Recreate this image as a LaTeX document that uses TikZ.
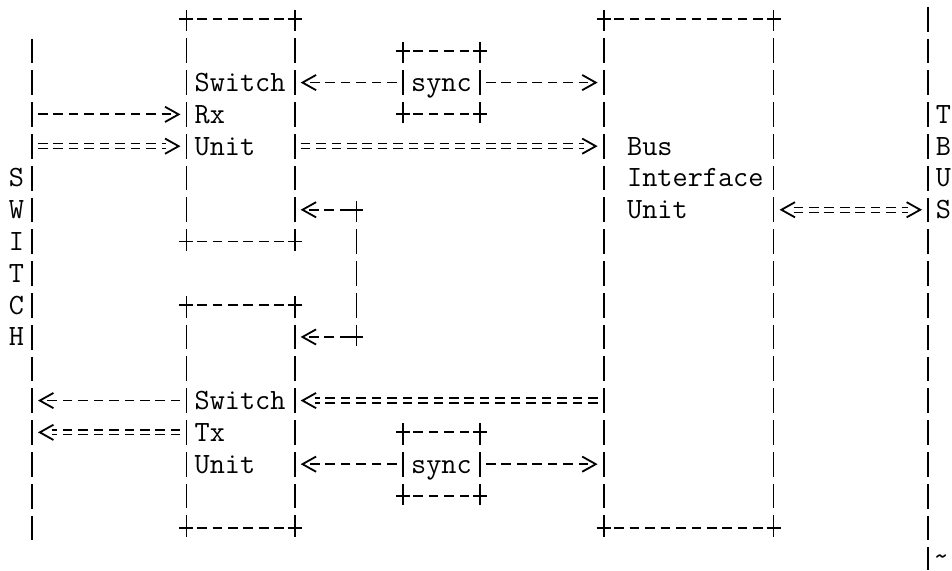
\documentclass[tikz,border=0pt]{standalone}
\usepackage{fontspec}
\usetikzlibrary{arrows.meta,calc,fit}

\begin{document}
\begin{tikzpicture}[x=7.725pt, y=-15.9pt,
  txt/.style={font=\fontsize{14.7pt}{15.9pt}\selectfont\ttfamily\addfontfeatures{FakeBold=1.2}, inner sep=0pt, text height=9pt, text depth=0pt},
  box/.style={inner sep=0pt, outer sep=0pt},
  hline/.style={line width=0.9pt, dash pattern=on 4.8pt off 2.925pt, dash phase=2.4pt},
  vline/.style={line width=0.9pt, dash pattern=on 12.4pt off 3.5pt, dash phase=6.2pt},
  barline/.style={vline, dash phase=0pt},
  sarrow/.style={line width=0.9pt, dash pattern=on 4.8pt off 2.925pt, -{Straight Barb[length=6.8pt,width=7.6pt]}, shorten >=3pt, shorten <=3pt},
  dline/.style={line width=0.65pt, double distance=1.8pt, dash pattern=on 4.8pt off 2.925pt, shorten <=3pt, shorten >=10pt},
  dtip/.style={line width=0.9pt, -{Straight Barb[length=6.8pt,width=7.6pt]}}]

\useasboundingbox (-0.071,-0.597) rectangle (61.55,17.33);

% Row helpers
\foreach \r in {0,...,17} \coordinate (r\r) at (0,\r);

% Boxes
\node[box, fit={(12,0) (19,7)}] (rx) {};
\node[box, fit={(12,9) (19,16)}] (tx) {};
\node[box, fit={(39,0) (50,16)}] (biu) {};
\node[box, fit={(26,1) (31,3)}] (synca) {};
\node[box, fit={(26,13) (31,15)}] (syncb) {};

\foreach \b in {rx,tx,biu,synca,syncb} {
  \draw[hline] (\b.north west) -- (\b.north east) (\b.south west) -- (\b.south east);
  \draw[vline] (\b.north west) -- (\b.south west) (\b.north east) -- (\b.south east);
  \foreach \c in {north west,north east,south west,south east}
    \draw[line width=0.9pt] (\b.\c) +(-3.5pt,0) -- +(3.5pt,0) +(0,-4.5pt) -- +(0,4.5pt);
}

% Box texts
\node[txt, anchor=west] (rxa) at (12.5,2) {Switch};
\node[txt, anchor=west] (rxb) at (12.5,3) {Rx};
\node[txt, anchor=west] (rxc) at (12.5,4) {Unit};
\node[txt, anchor=west] (txa) at (12.5,12) {Switch};
\node[txt, anchor=west] (txb) at (12.5,13) {Tx};
\node[txt, anchor=west] (txc) at (12.5,14) {Unit};
\node[txt, anchor=west] (biua) at (40.5,4) {Bus};
\node[txt, anchor=west] (biub) at (40.5,5) {Interface};
\node[txt, anchor=west] (biuc) at (40.5,6) {Unit};
\node[txt] (syncatxt) at (synca) {sync};
\node[txt] (syncbtxt) at (syncb) {sync};

% Switch side
\coordinate (swtop) at (2,0.62);
\coordinate (swbot) at (2,16.38);
\draw[barline] (swtop) -- (swbot);
\foreach \ch [count=\i from 5] in {S,W,I,T,C,H} \node[txt] (sw\i) at (1,\i) {\ch};

% TBUS side
\coordinate (tbtop) at (60,-0.38);
\coordinate (tbbot) at (60,17.33);
\draw[barline] (tbtop) -- (tbbot);
\foreach \ch [count=\i from 3] in {T,B,U,S} \node[txt] (tb\i) at (61,\i) {\ch};
\node[txt] (tilde) at (60.85,16.9) {\textasciitilde};

% Single arrows
\draw[sarrow] (swtop |- r3) -- (rx.west |- r3);
\draw[sarrow] (synca.west) -- (rx.east |- synca.west);
\draw[sarrow] (synca.east) -- (biu.west |- synca.east);
\draw[sarrow] (tx.west |- r12) -- (swtop |- r12);
\draw[sarrow] (syncb.west) -- (tx.east |- syncb.west);
\draw[sarrow] (syncb.east) -- (biu.west |- syncb.east);

% Feedback between Rx and Tx
\coordinate (fbtop) at (23,6);
\coordinate (fbbot) at (23,10);
\draw[vline] (fbtop) -- (fbbot);
\draw[sarrow, shorten <=3.5pt] (fbtop) -- (rx.east |- fbtop);
\draw[sarrow, shorten <=3.5pt] (fbbot) -- (tx.east |- fbbot);
\foreach \p in {fbtop,fbbot}
  \draw[line width=0.9pt] (\p) +(-3.5pt,0) -- +(3.5pt,0) +(0,-4.5pt) -- +(0,4.5pt);

% Double arrows
\draw[dline] (swtop |- r4) -- (rx.west |- r4);
\draw[dtip] ($(rx.west |- r4)!4pt!(swtop |- r4)$) -- ($(rx.west |- r4)!3pt!(swtop |- r4)$);
\draw[dline] (rx.east |- r4) -- (biu.west |- r4);
\draw[dtip] ($(biu.west |- r4)!4pt!(rx.east |- r4)$) -- ($(biu.west |- r4)!3pt!(rx.east |- r4)$);
\draw[dline, shorten <=10pt] (biu.east |- r6) -- (tbtop |- r6);
\draw[dtip] ($(tbtop |- r6)!4pt!(biu.east |- r6)$) -- ($(tbtop |- r6)!3pt!(biu.east |- r6)$);
\draw[dtip] ($(biu.east |- r6)!4pt!(tbtop |- r6)$) -- ($(biu.east |- r6)!3pt!(tbtop |- r6)$);
\draw[dline] (biu.west |- r12) -- (tx.east |- r12);
\draw[dtip] ($(tx.east |- r12)!4pt!(biu.west |- r12)$) -- ($(tx.east |- r12)!3pt!(biu.west |- r12)$);
\draw[dline] (tx.west |- r13) -- (swtop |- r13);
\draw[dtip] ($(swtop |- r13)!4pt!(tx.west |- r13)$) -- ($(swtop |- r13)!3pt!(tx.west |- r13)$);

\end{tikzpicture}
\end{document}
